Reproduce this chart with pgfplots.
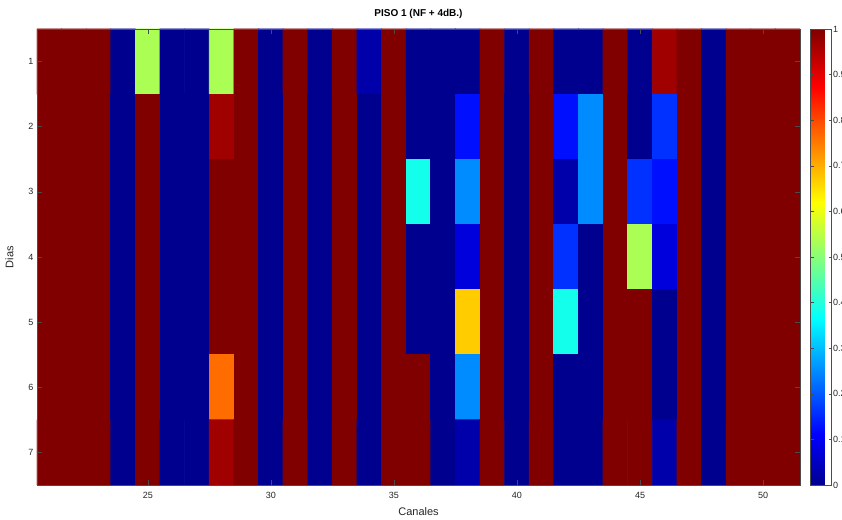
\documentclass[border=0pt]{standalone}
\usepackage{pgfplots}
\pgfplotsset{compat=1.18}
\usepackage{pgfplotstable}
\usepackage{fontspec}
\setmainfont{Liberation Sans}
\setsansfont{Liberation Sans}
\definecolor{axgray}{rgb}{0.15,0.15,0.15}
\definecolor{tkgray}{rgb}{0.3,0.3,0.3}
% day-by-day values, channels 21..51
\pgfplotstableread{
x y z
21 1 1
22 1 1
23 1 1
24 1 0
25 1 0.535
26 1 0
27 1 0
28 1 0.535
29 1 1
30 1 0
31 1 1
32 1 0
33 1 1
34 1 0.026
35 1 1
36 1 0
37 1 0
38 1 0
39 1 1
40 1 0
41 1 1
42 1 0
43 1 0
44 1 1
45 1 0
46 1 0.968
47 1 1
48 1 0
49 1 1
50 1 1
51 1 1
21 2 1
22 2 1
23 2 1
24 2 0
25 2 1
26 2 0
27 2 0
28 2 0.968
29 2 1
30 2 0
31 2 1
32 2 0
33 2 1
34 2 0
35 2 1
36 2 0
37 2 0
38 2 0.127
39 2 1
40 2 0
41 2 1
42 2 0.127
43 2 0.25
44 2 1
45 2 0
46 2 0.16
47 2 1
48 2 0
49 2 1
50 2 1
51 2 1
21 3 1
22 3 1
23 3 1
24 3 0
25 3 1
26 3 0
27 3 0
28 3 1
29 3 1
30 3 0
31 3 1
32 3 0
33 3 1
34 3 0
35 3 1
36 3 0.385
37 3 0
38 3 0.25
39 3 1
40 3 0
41 3 1
42 3 0.026
43 3 0.25
44 3 1
45 3 0.16
46 3 0.127
47 3 1
48 3 0
49 3 1
50 3 1
51 3 1
21 4 1
22 4 1
23 4 1
24 4 0
25 4 1
26 4 0
27 4 0
28 4 1
29 4 1
30 4 0
31 4 1
32 4 0
33 4 1
34 4 0
35 4 1
36 4 0
37 4 0
38 4 0.076
39 4 1
40 4 0
41 4 1
42 4 0.16
43 4 0
44 4 1
45 4 0.535
46 4 0.076
47 4 1
48 4 0
49 4 1
50 4 1
51 4 1
21 5 1
22 5 1
23 5 1
24 5 0
25 5 1
26 5 0
27 5 0
28 5 1
29 5 1
30 5 0
31 5 1
32 5 0
33 5 1
34 5 0
35 5 1
36 5 0
37 5 0
38 5 0.67
39 5 1
40 5 0
41 5 1
42 5 0.385
43 5 0
44 5 1
45 5 1
46 5 0
47 5 1
48 5 0
49 5 1
50 5 1
51 5 1
21 6 1
22 6 1
23 6 1
24 6 0
25 6 1
26 6 0
27 6 0
28 6 0.764
29 6 1
30 6 0
31 6 1
32 6 0
33 6 1
34 6 0
35 6 1
36 6 1
37 6 0
38 6 0.25
39 6 1
40 6 0
41 6 1
42 6 0
43 6 0
44 6 1
45 6 1
46 6 0
47 6 1
48 6 0
49 6 1
50 6 1
51 6 1
21 7 1
22 7 1
23 7 1
24 7 0
25 7 1
26 7 0
27 7 0
28 7 0.968
29 7 1
30 7 0
31 7 1
32 7 0
33 7 1
34 7 0
35 7 1
36 7 1
37 7 0
38 7 0.026
39 7 1
40 7 0
41 7 1
42 7 0
43 7 0
44 7 1
45 7 1
46 7 0.026
47 7 1
48 7 0
49 7 1
50 7 1
51 7 1
}\datatable
\begin{document}
\begin{tikzpicture}
\begin{axis}[
  name=ax,
  at={(0pt,0pt)}, anchor=south west,
  scale only axis,
  width=763pt, height=456pt,
  xmin=20.5, xmax=51.5, ymin=0.5, ymax=7.5,
  y dir=reverse,
  xtick={25,30,35,40,45,50},
  ytick={1,2,3,4,5,6,7},
  tick align=inside,
  major tick length=5pt,
  tick style={tkgray, line width=0.5pt},
  axis line style={tkgray, line width=0.6pt},
  axis on top,
  /pgf/number format/assume math mode=true,
  ticklabel style={font=\fontsize{9}{10}\selectfont, text=axgray},
  xticklabel shift=4pt,
  xlabel={Canales}, ylabel={Dias},
  xlabel shift=2pt,
  ylabel shift=8pt,
  label style={font=\fontsize{11}{12}\selectfont, text=axgray},
  title={PISO 1 (NF + 4dB.)},
  title style={font=\bfseries\fontsize{10}{12}\selectfont, yshift=1pt},
  colormap={mjet}{rgb(0cm)=(0,0,0.5625) rgb(7cm)=(0,0,1) rgb(23cm)=(0,1,1) rgb(39cm)=(1,1,0) rgb(55cm)=(1,0,0) rgb(63cm)=(0.5,0,0)},
  point meta min=0, point meta max=1,
  colorbar,
  colorbar style={
    at={(parent axis.north east)}, anchor=north west, xshift=2pt,
    width=21pt,
    ytick={0,0.1,...,1},
    /pgf/number format/assume math mode=true,
    yticklabel style={font=\fontsize{9}{10}\selectfont, text=axgray, /pgf/number format/fixed},
    yticklabel shift=-2pt,
    tick align=inside, major tick length=3pt,
    tick style={tkgray},
    axis line style={tkgray},
  },
]
\addplot[matrix plot, faceted color=mapped color, line width=0.8pt, point meta=explicit, mesh/cols=31] table[x=x, y=y, meta=z] {\datatable};
\end{axis}
\pgfresetboundingbox
\path[use as bounding box] ([xshift=-37pt,yshift=-34pt]ax.south west) rectangle ([xshift=42pt,yshift=29pt]ax.north east);
\end{tikzpicture}
\end{document}
